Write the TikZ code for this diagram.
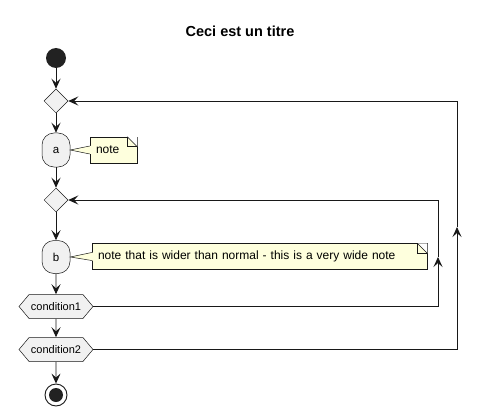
\documentclass[tikz,border=0pt]{standalone}
\usepackage{fontspec}
\setmainfont{Liberation Sans}
\usetikzlibrary{arrows.meta,shapes.geometric,shapes.symbols}

\definecolor{lineclr}{HTML}{181818}
\definecolor{actfill}{HTML}{F1F1F1}
\definecolor{notefill}{HTML}{FEFFDD}
\definecolor{dotclr}{HTML}{222222}

\begin{document}
\begin{tikzpicture}[x=1pt, y=-1pt,
    flow/.style={-{Stealth[length=10pt, width=9pt, inset=4pt]}, lineclr, line width=0.9pt},
    act/.style={rectangle, rounded corners=12pt, draw=lineclr, line width=0.5pt, fill=actfill,
        minimum width=28pt, minimum height=34pt, inner sep=0pt, font=\fontsize{11.5}{13}\selectfont},
    merge/.style={diamond, draw=lineclr, line width=0.5pt, fill=actfill, minimum size=24pt, inner sep=0pt},
    cond/.style={signal, signal to=east and west, signal pointer angle=100, draw=lineclr, line width=0.5pt,
        fill=actfill, minimum width=74pt, minimum height=24pt, inner sep=0pt, font=\fontsize{11}{13}\selectfont},
    notebox/.style={rectangle, draw=lineclr, line width=0.5pt, fill=notefill, minimum height=26pt,
        inner xsep=6pt, inner ysep=0pt, font=\fontsize{12}{14}\selectfont}]

    % Main column
    \def\xc{56}
    \def\xin{438}
    \def\xout{457}

    \useasboundingbox (0,0) rectangle (481,414);

    % Title
    \node[font=\bfseries\fontsize{14.5}{16}\selectfont] (title) at (240,31) {Ceci est un titre};

    % Start and stop
    \node[circle, fill=dotclr, minimum size=20pt, inner sep=0pt] (start) at (\xc,58) {};
    \node[circle, draw=lineclr, line width=0.9pt, fill=white, minimum size=22pt, inner sep=0pt] (stop) at (\xc,395) {};
    \fill[dotclr] (stop) circle (7);

    % Merges, activities, conditions
    \node[merge] (d1) at (\xc,101) {};
    \node[act] (a) at (\xc,150) {a};
    \node[merge] (d2) at (\xc,200) {};
    \node[act, minimum height=33pt] (b) at (\xc,257) {b};
    \node[cond] (c1) at (\xc,306.5) {condition1};
    \node[cond] (c2) at (\xc,349.5) {condition2};

    % Notes
    \node[notebox, text width=35pt] (na) at (113.5,150) {note};
    \node[notebox, text width=323pt] (nb) at (259.5,256.5) {note that is wider than normal - this is a very wide note};

    % Folded corner and pointer of each note
    \foreach \n/\t in {na/a, nb/b} {
        \fill[white] ([shift={(-10,0)}]\n.north east) -- (\n.north east) -- ([shift={(0,10)}]\n.north east) -- cycle;
        \draw[lineclr, line width=0.5pt] ([shift={(-10,0)}]\n.north east) -- ([shift={(0,10)}]\n.north east);
        \draw[lineclr, line width=0.5pt] ([shift={(-10,0)}]\n.north east) |- ([shift={(0,10)}]\n.north east);
        \fill[notefill] (\t.east) -- ([shift={(-0.3,-4)}]\n.west) -- ([shift={(1,-4)}]\n.west)
            -- ([shift={(1,4)}]\n.west) -- ([shift={(-0.3,4)}]\n.west) -- cycle;
        \draw[lineclr, line width=0.5pt] ([shift={(0,-4)}]\n.west) -- (\t.east) -- ([shift={(0,4)}]\n.west);
    }

    % Arrows down the column
    \foreach \u/\v in {start/d1, d1/a, a/d2, d2/b, b/c1, c1/c2, c2/stop}
        \draw[flow] (\u) -- (\v);

    % Loops back
    \coordinate (upin) at (\xin,257);
    \coordinate (upout) at (\xout,227);
    \draw[flow] (c1.east) -| (upin);
    \draw[flow] (upin) |- (d2.east);
    \draw[flow] (c2.east) -| (upout);
    \draw[flow] (upout) |- (d1.east);

\end{tikzpicture}
\end{document}
